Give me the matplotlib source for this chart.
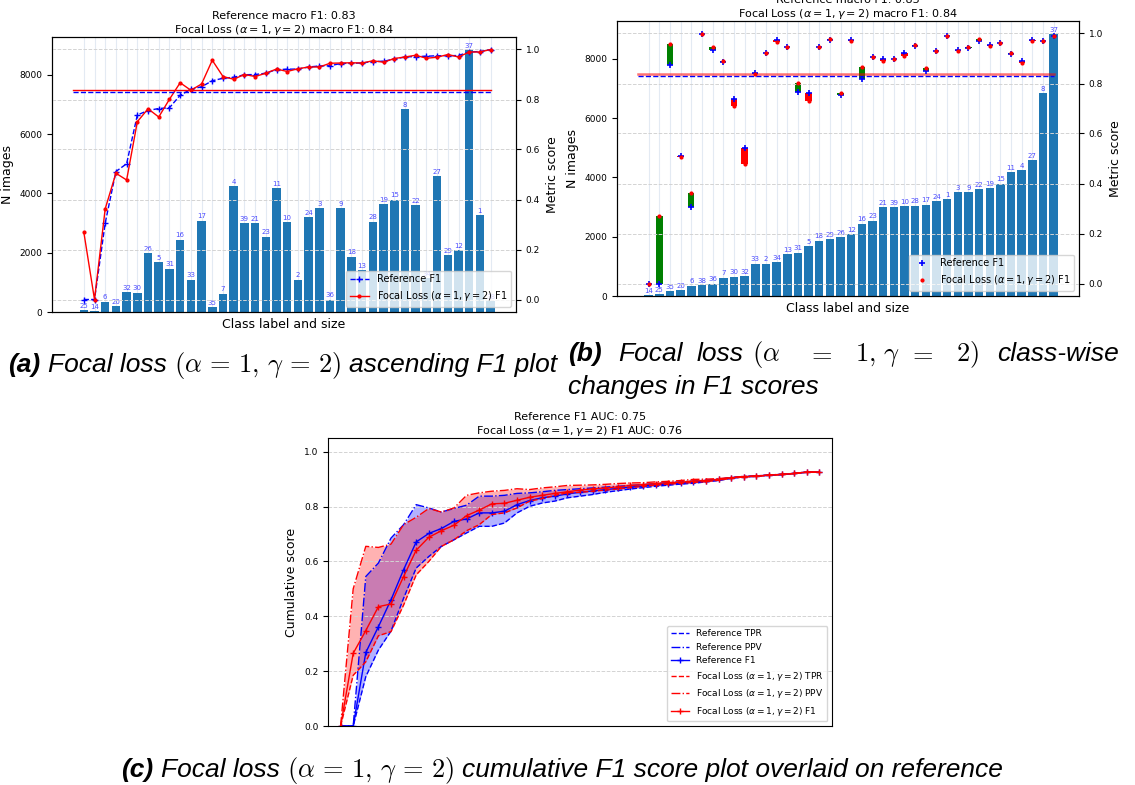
import numpy as np
import matplotlib
matplotlib.use('Agg')
import matplotlib.pyplot as plt

W, H = 1135, 785

# classes in ascending order of reference F1 (panel a)
class_labels = [25, 14, 6, 20, 32, 30, 26, 5, 31, 16, 33, 17, 35, 7, 4, 39, 21, 23,
                11, 10, 2, 24, 3, 36, 9, 18, 13, 28, 19, 15, 8, 22, 34, 27, 29, 12,
                37, 1, 38]
n_images = [70, 20, 345, 195, 665, 650, 1985, 1680, 1460, 2440, 1085, 3080, 165, 620,
            4240, 2995, 2990, 2540, 4175, 3030, 1095, 3200, 3500, 420, 3505, 1860,
            1410, 3050, 3635, 3790, 6840, 3600, 1140, 4580, 1910, 2080, 8830, 3260, 360]
ref_f1 = [0.00, 0.00, 0.306, 0.512, 0.543, 0.738, 0.756, 0.764, 0.767, 0.817, 0.841,
          0.851, 0.875, 0.885, 0.889, 0.899, 0.900, 0.905, 0.920, 0.921, 0.922, 0.930,
          0.934, 0.935, 0.944, 0.945, 0.946, 0.952, 0.953, 0.962, 0.970, 0.972, 0.973,
          0.975, 0.975, 0.976, 0.990, 0.992, 1.000]
focal_f1 = [0.27, 0.00, 0.363, 0.505, 0.478, 0.711, 0.763, 0.730, 0.801, 0.867, 0.837,
            0.862, 0.957, 0.892, 0.881, 0.900, 0.892, 0.905, 0.922, 0.912, 0.923, 0.930,
            0.930, 0.945, 0.946, 0.947, 0.946, 0.955, 0.949, 0.964, 0.970, 0.977, 0.965,
            0.969, 0.980, 0.970, 0.990, 0.990, 1.000]
ref_macro = 0.83
focal_macro = 0.84

# cumulative scores (panel c)
ref_tpr = [0, 0, 0.18, 0.277, 0.346, 0.466, 0.576, 0.618, 0.655, 0.679, 0.704, 0.728,
           0.728, 0.74, 0.777, 0.801, 0.813, 0.82, 0.832, 0.838, 0.844, 0.852, 0.858,
           0.864, 0.869, 0.874, 0.878, 0.882, 0.885, 0.89, 0.895, 0.903, 0.908, 0.91,
           0.914, 0.916, 0.92, 0.925, 0.925]
ref_ppv = [0, 0, 0.545, 0.594, 0.685, 0.734, 0.807, 0.795, 0.78, 0.793, 0.805, 0.838,
           0.838, 0.841, 0.848, 0.85, 0.854, 0.859, 0.862, 0.865, 0.868, 0.871, 0.874,
           0.877, 0.88, 0.884, 0.887, 0.89, 0.893, 0.896, 0.9, 0.906, 0.91, 0.912,
           0.915, 0.918, 0.921, 0.926, 0.926]
ref_cf1 = [0, 0, 0.268, 0.362, 0.46, 0.57, 0.671, 0.702, 0.72, 0.746, 0.755, 0.777,
           0.777, 0.783, 0.807, 0.822, 0.832, 0.838, 0.846, 0.852, 0.857, 0.862, 0.866,
           0.871, 0.875, 0.879, 0.883, 0.886, 0.89, 0.894, 0.899, 0.905, 0.909, 0.911,
           0.915, 0.917, 0.921, 0.926, 0.926]
focal_tpr = [0, 0.185, 0.234, 0.329, 0.344, 0.441, 0.551, 0.6, 0.655, 0.679, 0.712,
             0.734, 0.771, 0.777, 0.795, 0.82, 0.829, 0.841, 0.85, 0.852, 0.856, 0.86,
             0.864, 0.869, 0.874, 0.878, 0.882, 0.885, 0.888, 0.891, 0.896, 0.903,
             0.908, 0.91, 0.914, 0.916, 0.92, 0.925, 0.925]
focal_ppv = [0, 0.5, 0.655, 0.651, 0.663, 0.734, 0.761, 0.793, 0.78, 0.795, 0.841, 0.85,
             0.856, 0.859, 0.865, 0.862, 0.868, 0.872, 0.877, 0.878, 0.879, 0.881,
             0.884, 0.886, 0.887, 0.89, 0.892, 0.895, 0.899, 0.9, 0.902, 0.906, 0.91,
             0.912, 0.915, 0.918, 0.921, 0.926, 0.926]
focal_cf1 = [0, 0.265, 0.348, 0.435, 0.445, 0.545, 0.641, 0.688, 0.712, 0.732, 0.767,
             0.787, 0.81, 0.812, 0.823, 0.834, 0.841, 0.848, 0.854, 0.86, 0.865, 0.868,
             0.872, 0.877, 0.88, 0.884, 0.887, 0.889, 0.893, 0.895, 0.899, 0.905,
             0.909, 0.911, 0.915, 0.917, 0.921, 0.926, 0.926]
ref_auc = 0.75
focal_auc = 0.76

FL = r'Focal Loss ($\alpha = 1, \gamma = 2$)'
TICK = 6.5
LAB = 9


def style_axes(ax, ax2):
    ax.set_xticks(np.arange(len(class_labels)))
    ax.set_xticklabels([])
    ax.tick_params(axis='x', length=0)
    ax.tick_params(axis='y', labelsize=TICK)
    ax2.tick_params(axis='y', labelsize=TICK)
    ax.grid(axis='x', color='lightsteelblue', alpha=0.35, lw=0.8)
    ax.set_axisbelow(True)
    ax2.grid(axis='y', ls='--', color='lightgray', lw=0.7)
    ax2.set_ylim(-0.05, 1.05)
    ax.set_xlim(-2.97, 40.37)
    ax.set_ylabel('N images', fontsize=LAB)
    ax.set_xlabel('Class label and size', fontsize=LAB, labelpad=1)
    ax2.set_ylabel('Metric score', fontsize=LAB)
    ax.set_title(f'Reference macro F1: {ref_macro:.2f}\n{FL} macro F1: {focal_macro:.2f}',
                 fontsize=8, pad=3)


fig = plt.figure(figsize=(W / 100, H / 100), dpi=100)

# (a) ascending F1 plot
x = np.arange(len(class_labels))
ax = fig.add_axes([52 / W, 1 - 312 / H, 464 / W, 275 / H])
bars = ax.bar(x, n_images, width=0.8, color='#1f77b4')
ax.bar_label(bars, labels=[str(c) for c in class_labels], padding=1, fontsize=5,
             color='blue', alpha=0.7)
ax2 = ax.twinx()
l1, = ax2.plot(x, ref_f1, '--', marker='+', color='blue', lw=1, ms=4, label='Reference F1')
l2, = ax2.plot(x, focal_f1, '-', marker='.', color='red', lw=1, ms=4, label=FL + ' F1')
ax2.plot([-1, 38], [ref_macro] * 2, '--', color='blue', lw=1)
ax2.plot([-1, 38], [focal_macro] * 2, '-', color='red', lw=1)
style_axes(ax, ax2)
ax2.legend(handles=[l1, l2], loc='lower right', fontsize=7)

# (b) class-wise changes, sorted by size
order = np.argsort(n_images, kind='stable')
sz = np.array(n_images)[order]
lab_b = np.array(class_labels)[order]
rf = np.array(ref_f1)[order]
ff = np.array(focal_f1)[order]
bx = fig.add_axes([617 / W, 1 - 296 / H, 462 / W, 275 / H])
bars = bx.bar(x, sz, width=0.8, color='#1f77b4')
bx.bar_label(bars, labels=[str(c) for c in lab_b], padding=1, fontsize=5,
             color='blue', alpha=0.7)
bx2 = bx.twinx()
diff = ff - rf
bx2.bar(x, diff, bottom=rf, width=0.6,
        color=['green' if d >= 0 else 'red' for d in diff])
bx2.plot([-1, 38], [ref_macro] * 2, '--', color='blue', lw=1)
bx2.plot([-1, 38], [focal_macro] * 2, '-', color='red', lw=1.8, alpha=0.55)
m1, = bx2.plot(x, rf, '+', color='blue', ms=4, mew=1.2, label='Reference F1')
m2, = bx2.plot(x, ff, '.', color='red', ms=4, label=FL + ' F1')
style_axes(bx, bx2)
bx2.legend(handles=[m1, m2], loc='lower right', fontsize=7)

# (c) cumulative scores
cx = fig.add_axes([328 / W, 1 - 726 / H, 504 / W, 288 / H])
xc = np.arange(len(ref_cf1))
cx.fill_between(xc, ref_tpr, ref_ppv, color='blue', alpha=0.3, lw=0)
cx.fill_between(xc, focal_tpr, focal_ppv, color='red', alpha=0.3, lw=0)
cx.plot(xc, ref_tpr, '--', color='blue', lw=1, label='Reference TPR')
cx.plot(xc, ref_ppv, '-.', color='blue', lw=1, label='Reference PPV')
cx.plot(xc, ref_cf1, '-', marker='+', color='blue', lw=1, ms=5, label='Reference F1')
cx.plot(xc, focal_tpr, '--', color='red', lw=1, label=FL + ' TPR')
cx.plot(xc, focal_ppv, '-.', color='red', lw=1, label=FL + ' PPV')
cx.plot(xc, focal_cf1, '-', marker='+', color='red', lw=1, ms=5, label=FL + ' F1')
cx.set_xlim(-1, 39)
cx.set_ylim(0, 1.05)
cx.set_xticks([])
cx.set_yticks(np.arange(0, 1.01, 0.2))
cx.tick_params(axis='y', labelsize=TICK)
cx.grid(axis='y', ls='--', color='lightgray', lw=0.7)
cx.set_ylabel('Cumulative score', fontsize=LAB)
cx.set_title(f'Reference F1 AUC: {ref_auc:.2f}\n{FL} F1 AUC: {focal_auc:.2f}',
             fontsize=8, pad=3)
cx.legend(loc='lower right', fontsize=6.5)

# captions
CAP = 19
cap = dict(family='Liberation Sans', style='italic', fontsize=CAP)
capb = dict(cap, fontweight='bold')
capm = dict(fontsize=CAP, math_fontfamily='cm')
renderer = fig.canvas.get_renderer()
gap = 0.28 * CAP * 100 / 72
CAP_MATH = r'$(\alpha\,=\,1,\,\gamma\,=\,2)$'


def caption(parts, x_px, y_px, center=False):
    texts, widths = [], []
    for s, kw in parts:
        t = fig.text(0, 1 - y_px / H, s, va='baseline', **kw)
        texts.append(t)
        widths.append(t.get_window_extent(renderer).width)
    total = sum(widths) + gap * (len(parts) - 1)
    xp = x_px - total / 2 if center else x_px
    for t, w in zip(texts, widths):
        t.set_x(xp / W)
        xp += w + gap


caption([('(a)', capb), ('Focal loss', cap), (CAP_MATH, capm),
         ('ascending F1 plot', cap)], 8, 372)

# justified first line of caption (b)
b_parts = [('(b)', capb), ('Focal', cap), ('loss', cap), (r'$(\alpha$', capm),
           (r'$=$', capm), (r'$1,\,\gamma$', capm), (r'$=$', capm), (r'$2)$', capm)]
b_xpos = [568, 618, 697, 752, 807, 855, 908, 956]
for (s, kw), xp in zip(b_parts, b_xpos):
    fig.text(xp / W, 1 - 361 / H, s, va='baseline', **kw)
fig.text(1119 / W, 1 - 361 / H, 'class-wise', va='baseline', ha='right', **cap)
fig.text(568 / W, 1 - 394 / H, 'changes in F1 scores', va='baseline', **cap)

caption([('(c)', capb), ('Focal loss', cap), (CAP_MATH, capm),
         ('cumulative F1 score plot overlaid on reference', cap)], 562, 777, center=True)

fig.savefig('out.png', dpi=100)
